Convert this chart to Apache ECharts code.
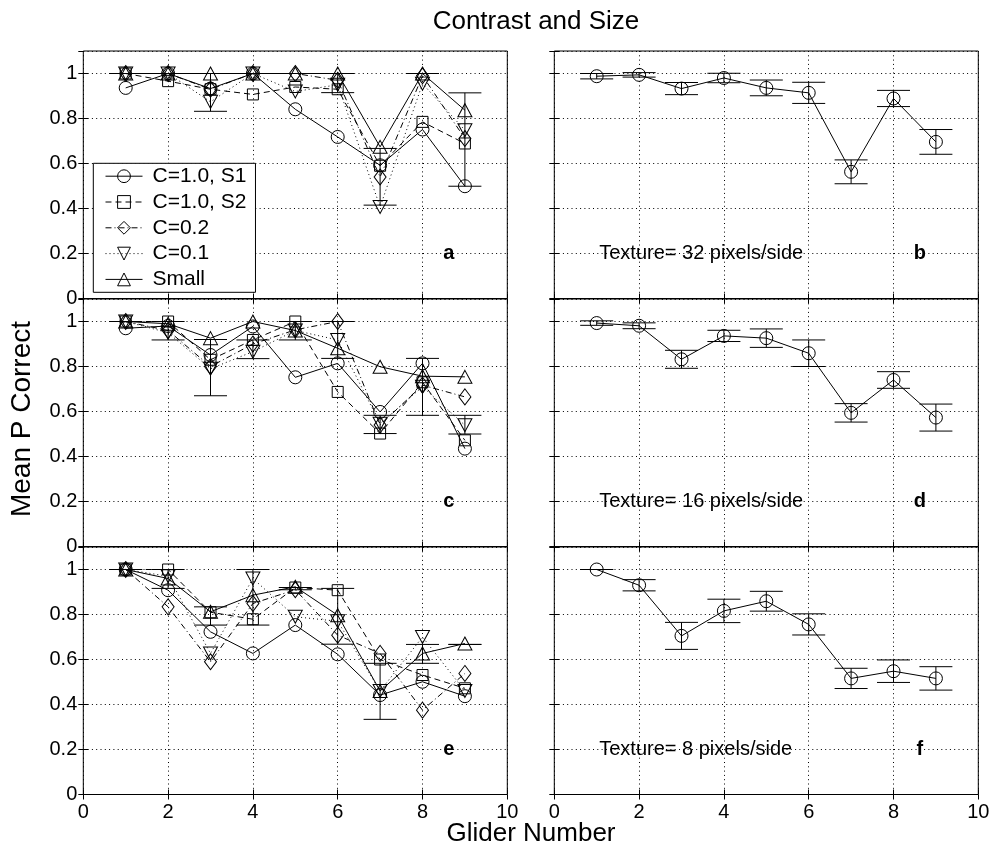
<!DOCTYPE html>
<html>
<head>
<meta charset="utf-8">
<title>Contrast and Size</title>
<script src="https://cdn.jsdelivr.net/npm/echarts@6/dist/echarts.min.js"></script>
<style>
  html, body { margin: 0; padding: 0; background: #fff; }
  #chart { width: 993px; height: 854px; }
</style>
</head>
<body>
<div id="chart"></div>
<script>
// ---- data ----------------------------------------------------------------
const gliders = [1, 2, 3, 4, 5, 6, 7, 8, 9];
const xTicks = [0, 2, 4, 6, 8, 10];
const yTicks = [0, 0.2, 0.4, 0.6, 0.8, 1];
const seriesNames = ['C=1.0, S1', 'C=1.0, S2', 'C=0.2', 'C=0.1', 'Small'];

// panel a: texture 32 pixels/side, contrast and size conditions
const aS1    = [0.936, 1.0, 0.933, 1.0, 0.841, 0.718, 0.592, 0.751, 0.499];
const aS2    = [1.0, 0.966, 0.93, 0.907, 0.94, 0.93, 0.59, 0.785, 0.689];
const aC02   = [1.0, 1.0, 0.93, 1.0, 1.0, 0.97, 0.54, 0.99, 0.711];
const aC01   = [1.0, 1.0, 0.874, 1.0, 0.92, 0.95, 0.407, 0.955, 0.748];
const aSmall = [1.0, 1.0, 1.0, 1.0, 1.0, 1.0, 0.674, 1.0, 0.837];
const aErrLow  = [1.0, 1.0, 0.832, 1.0, 1.0, 0.915, 0.415, 1.0, 0.499];
const aErrHigh = [1.0, 1.0, 1.0, 1.0, 1.0, 1.0, 0.667, 1.0, 0.914];

// panel c: texture 16 pixels/side
const cS1    = [0.97, 0.98, 0.851, 0.978, 0.752, 0.814, 0.598, 0.814, 0.435];
const cS2    = [1.0, 1.0, 0.83, 0.918, 1.0, 0.687, 0.502, 0.73, 0.472];
const cC02   = [1.0, 0.96, 0.80, 0.90, 0.963, 1.0, 0.54, 0.717, 0.665];
const cC01   = [1.0, 0.95, 0.79, 0.866, 0.96, 0.918, 0.546, 0.71, 0.539];
const cSmall = [1.0, 0.99, 0.926, 1.0, 0.96, 0.881, 0.799, 0.757, 0.754];
const cErrLow  = [1.0, 0.918, 0.67, 0.835, 0.918, 0.836, 0.502, 0.583, 0.5];
const cErrHigh = [1.0, 1.0, 0.92, 0.918, 1.0, 1.0, 0.583, 0.836, 0.583];

// panel e: texture 8 pixels/side
const eS1    = [1.0, 0.908, 0.723, 0.627, 0.753, 0.623, 0.442, 0.501, 0.437];
const eS2    = [1.0, 1.0, 0.81, 0.779, 0.92, 0.908, 0.6, 0.531, 0.472];
const eC02   = [1.0, 0.834, 0.59, 0.849, 0.91, 0.708, 0.627, 0.375, 0.538];
const eC01   = [1.0, 0.97, 0.627, 0.96, 0.79, 0.77, 0.46, 0.70, 0.46];
const eSmall = [1.0, 0.96, 0.812, 0.886, 0.923, 0.797, 0.46, 0.627, 0.671];
const eErrLow  = [1.0, 0.916, 0.753, 0.753, 0.91, 0.668, 0.334, 0.583, 0.667];
const eErrHigh = [1.0, 1.0, 0.834, 1.0, 0.92, 0.916, 0.583, 0.667, 0.667];

// panels b, d, f: mean over conditions with error half-widths
const bMean = [0.988, 0.994, 0.933, 0.98, 0.936, 0.914, 0.563, 0.889, 0.696];
const bErr  = [0.012, 0.01, 0.027, 0.021, 0.035, 0.047, 0.053, 0.036, 0.055];
const dMean = [0.993, 0.981, 0.832, 0.936, 0.926, 0.859, 0.594, 0.74, 0.573];
const dErr  = [0.01, 0.013, 0.04, 0.025, 0.041, 0.059, 0.041, 0.037, 0.06];
const fMean = [1.0, 0.93, 0.705, 0.816, 0.859, 0.756, 0.516, 0.548, 0.516];
const fErr  = [0, 0.025, 0.06, 0.052, 0.044, 0.047, 0.045, 0.05, 0.052];

const textureLabels = ['Texture= 32 pixels/side', 'Texture= 16 pixels/side', 'Texture= 8 pixels/side'];
const panelLetters = ['a', 'b', 'c', 'd', 'e', 'f'];

// ---- layout & style -------------------------------------------------------
const FONT = '"Liberation Sans", Arial, Helvetica, sans-serif';
const rowTop = [51, 299, 547];
const rowH = 247.5;
const colLeft = [83.3, 554.3];
const colW = 424;
const CAP_HALF = 16.5;

const markerStyles = [
  { symbol: 'circle', size: 13, line: 'solid' },
  { symbol: 'rect', size: 11, line: [6, 4] },
  { symbol: 'diamond', size: [12, 16], line: [6, 3, 1, 3] },
  { symbol: 'path://M0,0L10,0L5,9Z', size: [14, 13], line: [1, 3] },
  { symbol: 'triangle', size: [14, 13], line: 'solid' }
];

const multiPanels = [
  { values: [aS1, aS2, aC02, aC01, aSmall], lo: aErrLow, hi: aErrHigh },
  { values: [cS1, cS2, cC02, cC01, cSmall], lo: cErrLow, hi: cErrHigh },
  { values: [eS1, eS2, eC02, eC01, eSmall], lo: eErrLow, hi: eErrHigh }
];
const singlePanels = [
  { mean: bMean, err: bErr },
  { mean: dMean, err: dErr },
  { mean: fMean, err: fErr }
];

const chart = echarts.init(document.getElementById('chart'), null, { renderer: 'canvas' });

const grids = [], xAxes = [], yAxes = [], series = [];

function errorBarRender(params, api) {
  const x = api.value(0);
  const pLo = api.coord([x, api.value(1)]);
  const pHi = api.coord([x, api.value(2)]);
  const st = { stroke: '#000', lineWidth: 1 };
  return {
    type: 'group',
    children: [
      { type: 'line', shape: { x1: pLo[0], y1: pLo[1], x2: pHi[0], y2: pHi[1] }, style: st },
      { type: 'line', shape: { x1: pLo[0] - CAP_HALF, y1: pLo[1], x2: pLo[0] + CAP_HALF, y2: pLo[1] }, style: st },
      { type: 'line', shape: { x1: pHi[0] - CAP_HALF, y1: pHi[1], x2: pHi[0] + CAP_HALF, y2: pHi[1] }, style: st }
    ]
  };
}

for (let row = 0; row < 3; row++) {
  for (let col = 0; col < 2; col++) {
    const g = row * 2 + col;
    grids.push({
      left: colLeft[col], top: rowTop[row], width: colW, height: rowH,
      show: true, borderColor: '#000', borderWidth: 1, backgroundColor: '#fff'
    });
    const bottomRow = row === 2;
    const leftCol = col === 0;
    // bottom and left axes carry the grid and labels
    xAxes.push({
      type: 'value', gridIndex: g, min: 0, max: 10, interval: 2, position: 'bottom',
      axisLine: { show: false },
      axisTick: { show: true, inside: true, length: 5, lineStyle: { color: '#000' } },
      axisLabel: { show: bottomRow, fontSize: 20, fontFamily: FONT, color: '#000', margin: 8 },
      splitLine: { show: true, lineStyle: { color: '#000', width: 1, type: [1, 3.3] } }
    });
    xAxes.push({
      type: 'value', gridIndex: g, min: 0, max: 10, interval: 2, position: 'top',
      axisLine: { show: false },
      axisTick: { show: true, inside: true, length: 5, lineStyle: { color: '#000' } },
      axisLabel: { show: false }, splitLine: { show: false }
    });
    yAxes.push({
      type: 'value', gridIndex: g, min: 0, max: 1.1, interval: 0.2, position: 'left',
      axisLine: { show: false },
      axisTick: { show: true, inside: true, length: 5, lineStyle: { color: '#000' } },
      axisLabel: { show: leftCol, showMaxLabel: false, fontSize: 20, fontFamily: FONT, color: '#000', margin: 6 },
      splitLine: { show: true, lineStyle: { color: '#000', width: 1, type: [1, 3.3] } }
    });
    yAxes.push({
      type: 'value', gridIndex: g, min: 0, max: 1.1, interval: 0.2, position: 'right',
      axisLine: { show: false },
      axisTick: { show: true, inside: true, length: 5, lineStyle: { color: '#000' } },
      axisLabel: { show: false }, splitLine: { show: false }
    });

    const xi = g * 2, yi = g * 2;
    if (leftCol) {
      const p = multiPanels[row];
      series.push({
        type: 'custom', name: 'errorbars-' + g, xAxisIndex: xi, yAxisIndex: yi,
        renderItem: errorBarRender, z: 2, silent: true,
        data: gliders.map((x, i) => [x, p.lo[i], p.hi[i]])
      });
      p.values.forEach((vals, k) => {
        const ms = markerStyles[k];
        series.push({
          type: 'line', name: seriesNames[k], xAxisIndex: xi, yAxisIndex: yi,
          data: gliders.map((x, i) => [x, vals[i]]),
          symbol: ms.symbol, symbolSize: ms.size, showAllSymbol: true,
          lineStyle: { color: '#000', width: 1, type: ms.line },
          itemStyle: { color: 'rgba(0,0,0,0)', borderColor: '#000', borderWidth: 1 },
          z: 3, silent: true
        });
      });
    } else {
      const p = singlePanels[row];
      series.push({
        type: 'custom', name: 'texture-err-' + g, xAxisIndex: xi, yAxisIndex: yi,
        renderItem: errorBarRender, z: 2, silent: true,
        data: gliders.map((x, i) => [x, p.mean[i] - p.err[i], p.mean[i] + p.err[i]])
      });
      series.push({
        type: 'line', name: 'texture-mean-' + g, xAxisIndex: xi, yAxisIndex: yi,
        data: gliders.map((x, i) => [x, p.mean[i]]),
        symbol: 'circle', symbolSize: 13, showAllSymbol: true,
        lineStyle: { color: '#000', width: 1 },
        itemStyle: { color: 'rgba(0,0,0,0)', borderColor: '#000', borderWidth: 1 },
        z: 3, silent: true
      });
    }
  }
}

chart.setOption({
  animation: false,
  backgroundColor: '#fff',
  title: {
    text: 'Contrast and Size', left: 531, top: 4, textAlign: 'center',
    textStyle: { fontFamily: FONT, fontSize: 26, fontWeight: 'normal', color: '#000' }
  },
  legend: {
    data: seriesNames, orient: 'vertical', left: 93.3, top: 163.3,
    selectedMode: false,
    backgroundColor: '#fff', borderColor: '#000', borderWidth: 1,
    padding: [2.4, 9, 2.4, 11.7],
    itemWidth: 37, itemHeight: 16, itemGap: 4.8,
    itemStyle: { color: 'rgba(0,0,0,0)', borderColor: '#000', borderWidth: 1 },
    lineStyle: { color: '#000', width: 1 },
    textStyle: { fontFamily: FONT, fontSize: 21, color: '#000', lineHeight: 20, padding: [0, 0, 0, 5] },
    z: 10
  },
  grid: grids,
  xAxis: xAxes,
  yAxis: yAxes,
  series: series
});

// panel letters and texture notes placed in data coordinates
const graphics = [];
for (let g = 0; g < 6; g++) {
  const pt = chart.convertToPixel({ gridIndex: g }, [8.62, 0.2]);
  graphics.push({
    type: 'text', x: pt[0], y: pt[1], z: 20,
    style: { text: panelLetters[g], font: 'bold 20px ' + FONT, fill: '#000', align: 'center', verticalAlign: 'middle' }
  });
  if (g % 2 === 1) {
    const tp = chart.convertToPixel({ gridIndex: g }, [1.06, 0.2]);
    graphics.push({
      type: 'text', x: tp[0], y: tp[1], z: 20,
      style: { text: textureLabels[(g - 1) / 2], font: '20px ' + FONT, fill: '#000', align: 'left', verticalAlign: 'middle' }
    });
  }
}
graphics.push({
  type: 'text', x: 22, y: 419, rotation: Math.PI / 2, z: 20,
  style: { text: 'Mean P Correct', font: '28px ' + FONT, fill: '#000', align: 'center', verticalAlign: 'middle' }
});
graphics.push({
  type: 'text', x: 531, y: 834, z: 20,
  style: { text: 'Glider Number', font: '26px ' + FONT, fill: '#000', align: 'center', verticalAlign: 'middle' }
});
chart.setOption({ graphic: graphics });
</script>
</body>
</html>
